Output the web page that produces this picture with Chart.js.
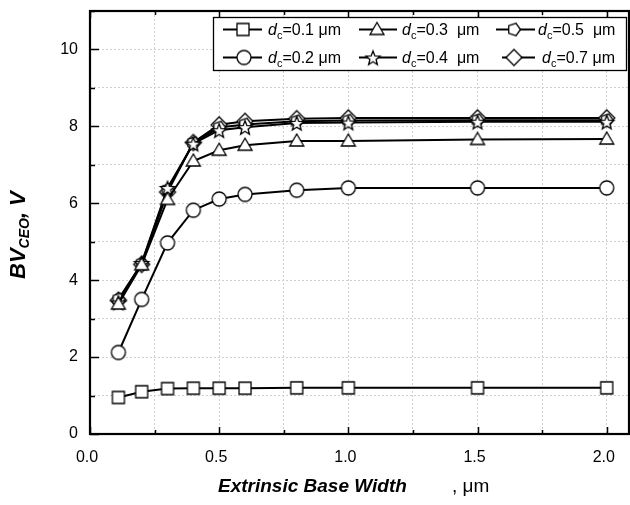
<!DOCTYPE html>
<html>
<head>
<meta charset="utf-8">
<script src="https://cdn.jsdelivr.net/npm/chart.js@4.4.0/dist/chart.umd.min.js"></script>
<style>
  html, body { margin: 0; padding: 0; background: #fff; }
</style>
</head>
<body>
<canvas id="chart" width="630" height="505"></canvas>
<script>
// extrinsic base width, um
const baseWidth = [0.11, 0.2, 0.3, 0.4, 0.5, 0.6, 0.8, 1.0, 1.5, 2.0];
// BV_CEO, V for each collector thickness d_c
const bv01 = [0.95, 1.1, 1.18, 1.19, 1.19, 1.19, 1.2, 1.2, 1.2, 1.2];
const bv02 = [2.12, 3.5, 4.97, 5.82, 6.11, 6.23, 6.34, 6.4, 6.4, 6.4];
const bv03 = [3.38, 4.4, 6.1, 7.1, 7.38, 7.51, 7.62, 7.62, 7.66, 7.67];
const bv04 = [3.42, 4.45, 6.4, 7.55, 7.9, 7.98, 8.09, 8.1, 8.12, 8.12];
const bv05 = [3.5, 4.43, 6.35, 7.57, 7.97, 8.05, 8.13, 8.15, 8.16, 8.16];
const bv07 = [3.48, 4.41, 6.29, 7.58, 8.04, 8.13, 8.2, 8.22, 8.22, 8.22];
const dcLabels = ["=0.1 μm", "=0.2 μm", "=0.3  μm", "=0.4  μm", "=0.5  μm", "=0.7 μm"];
const xTickLabels = ["0.0", "0.5", "1.0", "1.5", "2.0"];
const yTickLabels = ["0", "2", "4", "6", "8", "10"];

const FONT = '"Liberation Sans", Arial, sans-serif';

// open markers drawn once into small canvases
function marker(shape) {
  const s = 22, m = s / 2;
  const c = document.createElement("canvas");
  c.width = s; c.height = s;
  const g = c.getContext("2d");
  g.lineWidth = 1.3;
  g.strokeStyle = "#000";
  g.fillStyle = "#fff";
  g.beginPath();
  if (shape === "square") {
    g.rect(m - 6, m - 6, 12, 12);
  } else if (shape === "circle") {
    g.arc(m, m, 7, 0, Math.PI * 2);
  } else if (shape === "triangle") {
    g.moveTo(m, m - 7);
    g.lineTo(m + 7, m + 5);
    g.lineTo(m - 7, m + 5);
    g.closePath();
  } else if (shape === "star") {
    for (let i = 0; i < 10; i++) {
      const r = i % 2 ? 3.2 : 7.5;
      const a = -Math.PI / 2 + i * Math.PI / 5;
      const px = m + r * Math.cos(a), py = m + 1 + r * Math.sin(a);
      i ? g.lineTo(px, py) : g.moveTo(px, py);
    }
    g.closePath();
  } else if (shape === "pentagon") {
    for (let i = 0; i < 5; i++) {
      const a = i * 2 * Math.PI / 5;
      const px = m + 6.5 * Math.cos(a), py = m + 6.5 * Math.sin(a);
      i ? g.lineTo(px, py) : g.moveTo(px, py);
    }
    g.closePath();
  } else if (shape === "diamond") {
    g.moveTo(m, m - 8);
    g.lineTo(m + 8, m);
    g.lineTo(m, m + 8);
    g.lineTo(m - 8, m);
    g.closePath();
  }
  g.fill();
  g.stroke();
  return c;
}

const series = [
  { vals: bv01, label: dcLabels[0], img: marker("square") },
  { vals: bv02, label: dcLabels[1], img: marker("circle") },
  { vals: bv03, label: dcLabels[2], img: marker("triangle") },
  { vals: bv04, label: dcLabels[3], img: marker("star") },
  { vals: bv05, label: dcLabels[4], img: marker("pentagon") },
  { vals: bv07, label: dcLabels[5], img: marker("diamond") },
];

const datasets = series.map((s) => ({
  label: s.label,
  data: s.vals.map((v, i) => ({ x: baseWidth[i], y: v })),
  borderColor: "#000",
  borderWidth: 2,
  pointStyle: s.img,
  pointRadius: 7,
  fill: false,
  tension: 0,
}));

// frame, inward ticks, legend box and axis titles
const decor = {
  id: "decor",
  afterDatasetsDraw(chart) {
    const { ctx, chartArea: a, scales } = chart;
    const x = scales.x, y = scales.y;
    ctx.save();
    ctx.strokeStyle = "#000";

    ctx.lineWidth = 1.5;
    ctx.beginPath();
    for (let i = 0; i <= 8; i++) {
      const px = Math.round(x.getPixelForValue(i * 0.25)) + 0.5;
      const len = i % 2 === 0 ? 7 : 4;
      ctx.moveTo(px, a.bottom); ctx.lineTo(px, a.bottom - len);
      ctx.moveTo(px, a.top); ctx.lineTo(px, a.top + len);
    }
    for (let i = 0; i <= 11; i++) {
      const py = Math.round(y.getPixelForValue(i)) + 0.5;
      const len = i % 2 === 0 ? 9 : 5;
      ctx.moveTo(a.left, py); ctx.lineTo(a.left + len, py);
    }
    ctx.stroke();

    ctx.lineWidth = 2.2;
    ctx.strokeRect(a.left, a.top, a.right - a.left - 1, a.bottom - a.top);

    // legend
    const box = { l: 213, t: 17, r: 626, b: 70 };
    ctx.fillStyle = "#fff";
    ctx.fillRect(box.l, box.t, box.r - box.l, box.b - box.t);
    ctx.lineWidth = 1.3;
    ctx.strokeRect(box.l + 0.5, box.t + 0.5, box.r - box.l, box.b - box.t);

    const cells = [
      { s: 0, row: 0, l0: 223, l1: 262, mx: 243, tx: 268 },
      { s: 2, row: 0, l0: 359, l1: 397, mx: 377, tx: 402 },
      { s: 4, row: 0, l0: 496, l1: 535, mx: 514, tx: 538 },
      { s: 1, row: 1, l0: 223, l1: 262, mx: 244, tx: 268 },
      { s: 3, row: 1, l0: 359, l1: 397, mx: 373, tx: 402 },
      { s: 5, row: 1, l0: 502, l1: 535, mx: 514, tx: 542 },
    ];
    const rowY = [29, 57];
    ctx.textBaseline = "alphabetic";
    ctx.textAlign = "left";
    cells.forEach((c) => {
      const cy = rowY[c.row];
      ctx.lineWidth = 2;
      ctx.beginPath();
      ctx.moveTo(c.l0, cy + 0.5); ctx.lineTo(c.l1, cy + 0.5);
      ctx.stroke();
      const img = series[c.s].img;
      ctx.drawImage(img, c.mx - img.width / 2, cy - img.height / 2 + 0.5);
      ctx.fillStyle = "#000";
      let tx = c.tx;
      const base = cy + 6;
      ctx.font = "italic 16px " + FONT;
      ctx.fillText("d", tx, base);
      tx += ctx.measureText("d").width;
      ctx.font = "11px " + FONT;
      ctx.fillText("c", tx, base + 4);
      tx += ctx.measureText("c").width;
      ctx.font = "16px " + FONT;
      ctx.fillText(series[c.s].label, tx, base);
    });

    // x title
    ctx.fillStyle = "#000";
    ctx.font = "italic bold 19px " + FONT;
    ctx.fillText("Extrinsic Base Width", 218, 492);
    ctx.font = "19px " + FONT;
    ctx.fillText(", μm", 452, 492);

    // y title
    ctx.save();
    ctx.translate(25, 279);
    ctx.rotate(-Math.PI / 2);
    let p = 0;
    ctx.font = "italic bold 22px " + FONT;
    ctx.fillText("BV", p, 0);
    p += ctx.measureText("BV").width;
    ctx.font = "italic bold 14px " + FONT;
    ctx.fillText("CEO", p, 4);
    p += ctx.measureText("CEO").width;
    ctx.font = "italic bold 22px " + FONT;
    ctx.fillText(", V", p, 0);
    ctx.restore();

    ctx.restore();
  },
};

new Chart(document.getElementById("chart").getContext("2d"), {
  type: "line",
  data: { datasets },
  options: {
    responsive: false,
    animation: false,
    events: [],
    layout: { autoPadding: false, padding: { top: 11, right: 0, bottom: 0, left: 0 } },
    plugins: { legend: { display: false }, tooltip: { enabled: false } },
    scales: {
      x: {
        type: "linear",
        bounds: "data",
        min: 0,
        max: 2.09,
        afterFit: (s) => {
          s.height = 71;
          s.paddingLeft = 0;
          s.paddingRight = 0;
        },
        ticks: {
          stepSize: 0.25,
          includeBounds: false,
          autoSkip: false,
          maxRotation: 0,
          padding: 14,
          labelOffset: -3,
          color: "#000",
          font: { family: FONT, size: 16 },
          callback: (v) => {
            const k = Math.round(v * 2);
            return Math.abs(v * 2 - k) < 1e-6 ? xTickLabels[k] : "";
          },
        },
        grid: { color: "#cfcfcf", lineWidth: 1, drawTicks: false },
        border: { display: false, dash: [2, 2] },
      },
      y: {
        min: 0,
        max: 11,
        afterFit: (s) => {
          s.width = 90;
          s.paddingTop = 0;
          s.paddingBottom = 0;
        },
        ticks: {
          stepSize: 1,
          autoSkip: false,
          padding: 12,
          color: "#000",
          font: { family: FONT, size: 16 },
          callback: (v) => (v % 2 === 0 && v <= 10 ? yTickLabels[v / 2] : ""),
        },
        grid: { color: "#cfcfcf", lineWidth: 1, drawTicks: false },
        border: { display: false, dash: [2, 2] },
      },
    },
  },
  plugins: [decor],
});
</script>
</body>
</html>
